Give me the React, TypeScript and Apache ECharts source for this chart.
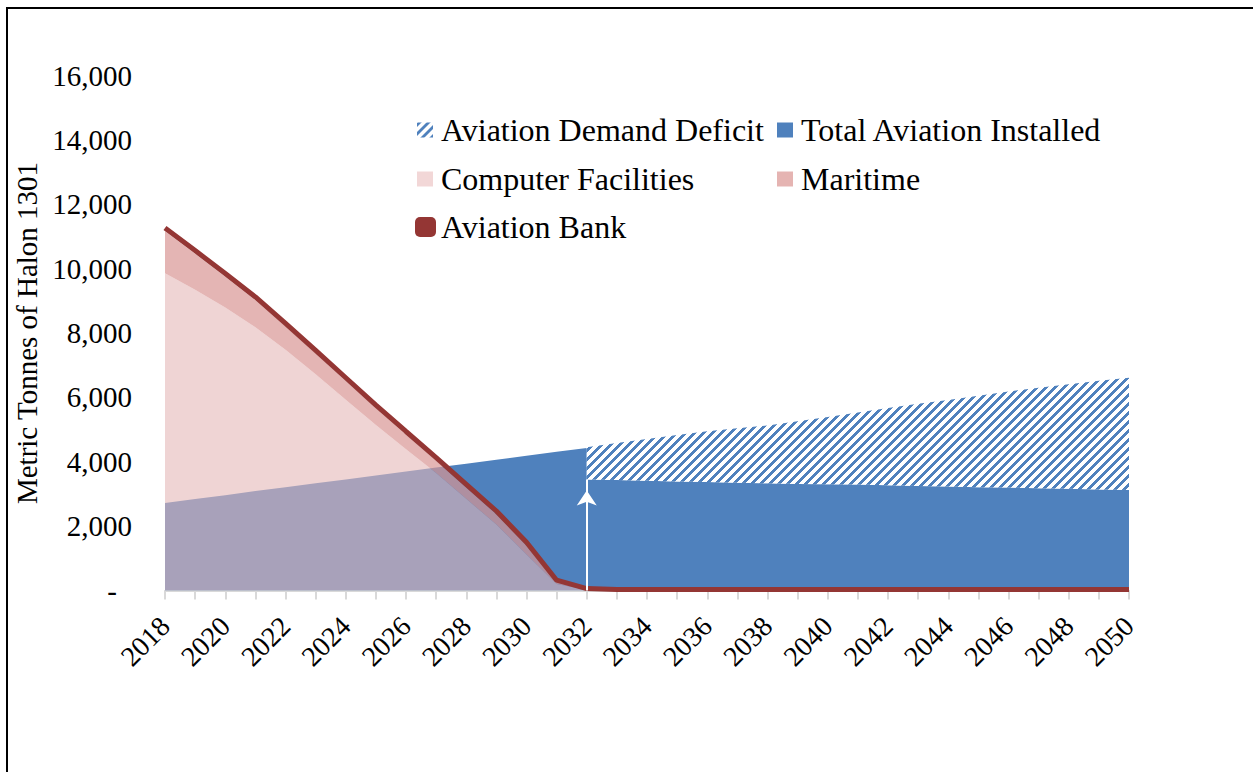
import React, { useEffect, useRef } from 'react';
import * as echarts from 'echarts';

const years = [
  '2018', '2019', '2020', '2021', '2022', '2023', '2024', '2025', '2026', '2027', '2028',
  '2029', '2030', '2031', '2032', '2033', '2034', '2035', '2036', '2037', '2038', '2039',
  '2040', '2041', '2042', '2043', '2044', '2045', '2046', '2047', '2048', '2049', '2050',
];

// Total Aviation Installed up to 2032 (demand met from the bank)
const installedPre = [
  2720, 2840, 2960, 3090, 3210, 3330, 3450, 3570, 3700, 3820, 3940, 4060, 4190, 4310, 4430,
  null, null, null, null, null, null, null, null, null, null, null, null, null, null, null, null, null, null,
];

// Total Aviation Installed from 2032 on
const installedPost = [
  null, null, null, null, null, null, null, null, null, null, null, null, null, null,
  3450, 3430, 3410, 3390, 3370, 3350, 3330, 3310, 3300, 3290, 3270, 3250, 3230, 3210, 3200, 3180, 3160, 3140, 3120,
];

// Aviation Demand Deficit (on top of installed)
const deficit = [
  null, null, null, null, null, null, null, null, null, null, null, null, null, null,
  1000, 1150, 1300, 1440, 1580, 1690, 1800, 1950, 2090, 2240, 2400, 2550, 2690, 2840, 2980, 3120, 3250, 3380, 3490,
];

const computerFacilities = [
  9860, 9340, 8790, 8180, 7480, 6720, 5930, 5140, 4390, 3650, 2850, 2050, 1120, 200, 20,
  0, 0, 0, 0, 0, 0, 0, 0, 0, 0, 0, 0, 0, 0, 0, 0, 0, 0,
];

const maritime = [
  1300, 1120, 960, 840, 720, 640, 580, 520, 450, 380, 350, 320, 280, 100, 20,
  20, 20, 20, 20, 20, 20, 20, 20, 20, 20, 20, 20, 20, 20, 20, 20, 20, 20,
];

const aviationBank = [
  11260, 10560, 9850, 9120, 8300, 7460, 6610, 5760, 4940, 4130, 3300, 2470, 1500, 320, 60,
  30, 30, 30, 30, 30, 30, 30, 30, 30, 30, 30, 30, 30, 30, 30, 30, 30, 30,
];

const ARROW_YEAR = '2032';

const FONT = "'Liberation Serif', 'Times New Roman', serif";
const BLUE = '#4F81BD';
const BANK = '#943634';

function makeHatchURL(): string {
  const c = document.createElement('canvas');
  c.width = 9;
  c.height = 9;
  const ctx = c.getContext('2d')!;
  ctx.fillStyle = '#ffffff';
  ctx.fillRect(0, 0, 9, 9);
  ctx.fillStyle = BLUE;
  for (let y = 0; y < 9; y++) {
    for (let x = 0; x < 9; x++) {
      if ((x + y) % 9 < 4) ctx.fillRect(x, y, 1, 1);
    }
  }
  return c.toDataURL();
}

export default function App() {
  const ref = useRef<HTMLDivElement>(null);

  useEffect(() => {
    const el = ref.current;
    if (!el) return;
    const chart = echarts.init(el, null, { renderer: 'svg' });
    const hatch: any = { image: makeHatchURL(), repeat: 'repeat', imageWidth: 9, imageHeight: 9 };

    const legendText = { fontFamily: FONT, fontSize: 32, color: '#000', lineHeight: 34, padding: [0, 0, 0, 3] };
    const legendBase: any = {
      orient: 'vertical',
      padding: 0,
      itemGap: 0,
      itemWidth: 16,
      itemHeight: 15,
      textStyle: legendText,
    };

    const arrowIdx = years.indexOf(ARROW_YEAR);

    const option: any = {
      animation: false,
      backgroundColor: '#ffffff',
      textStyle: { fontFamily: FONT },
      graphic: [
        { type: 'line', shape: { x1: 6, y1: 8, x2: 1253, y2: 8 }, style: { stroke: '#000', lineWidth: 2 }, silent: true },
        { type: 'line', shape: { x1: 7, y1: 7, x2: 7, y2: 772 }, style: { stroke: '#000', lineWidth: 2 }, silent: true },
      ],
      legend: [
        { ...legendBase, left: 417, top: 113, data: [{ name: 'Aviation Demand Deficit', icon: 'rect', itemStyle: { color: hatch } }] },
        { ...legendBase, left: 777, top: 113, data: [{ name: 'Total Aviation Installed', icon: 'rect', itemStyle: { color: BLUE } }] },
        { ...legendBase, left: 417, top: 162, data: [{ name: 'Computer Facilities', icon: 'rect', itemStyle: { color: '#F2D7D7' } }] },
        { ...legendBase, left: 777, top: 162, data: [{ name: 'Maritime', icon: 'rect', itemStyle: { color: '#E5B4B2' } }] },
        {
          ...legendBase,
          left: 415,
          top: 210,
          itemWidth: 21,
          itemHeight: 20,
          textStyle: { ...legendText, padding: 0 },
          data: [{ name: 'Aviation Bank', icon: 'roundRect', itemStyle: { color: BANK } }],
        },
      ],
      grid: { left: 165, right: 124, top: 75.5, bottom: 181.5, containLabel: false },
      xAxis: {
        type: 'category',
        data: years,
        boundaryGap: false,
        axisLine: { show: true, lineStyle: { color: '#D9D9D9', width: 2 } },
        axisTick: { show: true, interval: 0, length: 9, lineStyle: { color: '#D9D9D9', width: 2 } },
        axisLabel: { interval: 1, rotate: 45, fontSize: 28, fontFamily: FONT, color: '#000', margin: 31 },
        splitLine: { show: false },
      },
      yAxis: {
        type: 'value',
        min: 0,
        max: 16000,
        interval: 2000,
        name: 'Metric Tonnes of Halon 1301',
        nameLocation: 'middle',
        nameGap: 121,
        nameTextStyle: { fontFamily: FONT, fontSize: 29, color: '#000' },
        axisLine: { show: false },
        axisTick: { show: false },
        splitLine: { show: false },
        axisLabel: {
          fontSize: 29,
          fontFamily: FONT,
          color: '#000',
          margin: 33,
          formatter: (v: number) => (v === 0 ? '{dash|-}' : v.toLocaleString('en-US')),
          rich: { dash: { fontSize: 29, fontFamily: FONT, color: '#000', padding: [0, 15, 0, 0] } },
        },
      },
      series: [
        {
          name: 'Total Aviation Installed',
          type: 'line',
          data: installedPre,
          symbol: 'none',
          showSymbol: false,
          lineStyle: { width: 0, opacity: 0 },
          itemStyle: { color: BLUE },
          areaStyle: { color: BLUE, opacity: 1 },
          emphasis: { disabled: true },
        },
        {
          name: 'Total Aviation Installed',
          type: 'line',
          stack: 'aviation',
          data: installedPost,
          symbol: 'none',
          showSymbol: false,
          lineStyle: { width: 0, opacity: 0 },
          itemStyle: { color: BLUE },
          areaStyle: { color: BLUE, opacity: 1 },
          emphasis: { disabled: true },
          markLine: {
            silent: true,
            symbol: ['none', 'arrow'],
            symbolSize: [15, 15],
            symbolOffset: [0, [0, 11]],
            lineStyle: { color: '#ffffff', width: 2, type: 'solid' },
            label: { show: false },
            emphasis: { disabled: true },
            data: [[{ coord: [ARROW_YEAR, 0] }, { coord: [ARROW_YEAR, installedPost[arrowIdx]] }]],
          },
        },
        {
          name: 'Aviation Demand Deficit',
          type: 'line',
          stack: 'aviation',
          data: deficit,
          symbol: 'none',
          showSymbol: false,
          lineStyle: { width: 0, opacity: 0 },
          itemStyle: { color: BLUE },
          areaStyle: { color: hatch, opacity: 1 },
          emphasis: { disabled: true },
        },
        {
          name: 'Computer Facilities',
          type: 'line',
          stack: 'halon',
          data: computerFacilities,
          symbol: 'none',
          showSymbol: false,
          lineStyle: { width: 0, opacity: 0 },
          itemStyle: { color: '#F2D7D7' },
          areaStyle: { color: 'rgba(229,184,183,0.6)', opacity: 1 },
          emphasis: { disabled: true },
        },
        {
          name: 'Maritime',
          type: 'line',
          stack: 'halon',
          data: maritime,
          symbol: 'none',
          showSymbol: false,
          lineStyle: { width: 0, opacity: 0 },
          itemStyle: { color: '#E5B4B2' },
          areaStyle: { color: 'rgba(217,150,148,0.7)', opacity: 1 },
          emphasis: { disabled: true },
        },
        {
          name: 'Aviation Bank',
          type: 'line',
          data: aviationBank,
          symbol: 'none',
          showSymbol: false,
          lineStyle: { width: 5, color: BANK },
          itemStyle: { color: BANK },
          emphasis: { disabled: true },
        },
      ],
    };

    chart.setOption(option);
    return () => chart.dispose();
  }, []);

  return (
    <div
      ref={ref}
      style={{ position: 'fixed', left: 0, top: 0, width: 1253, height: 772, background: '#ffffff' }}
    />
  );
}
